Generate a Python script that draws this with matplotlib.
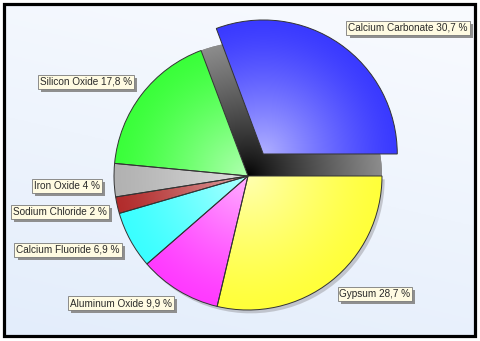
import matplotlib.pyplot as plt
import numpy as np
from matplotlib.patches import Rectangle, Wedge
from matplotlib.colors import to_rgb
import matplotlib.patheffects as pe

components = ['Calcium Carbonate', 'Silicon Oxide', 'Iron Oxide', 'Sodium Chloride',
              'Calcium Fluoride', 'Aluminum Oxide', 'Gypsum']
shares = [30.7, 17.8, 4, 2, 6.9, 9.9, 28.7]
share_text = ['30,7 %', '17,8 %', '4 %', '2 %', '6,9 %', '9,9 %', '28,7 %']
colors = ['#3a3aff', '#3aff3a', '#b2b2b2', '#b22c2c', '#3affff', '#ff3aff', '#ffff3a']
explode = [0.2, 0, 0, 0, 0, 0, 0]

# label box centres in pixels (from top-left)
label_pos = [(408, 28), (86, 82), (67, 186), (60, 212), (68, 250), (121, 303), (375, 294)]

W, H = 480, 341
cx, cy, R = 248, 165, 134  # pie centre (pixels from bottom-left) and radius

fig = plt.figure(figsize=(4.8, 3.41), dpi=100)

# background + frame
bg = fig.add_axes([0, 0, 1, 1])
bg.set_xlim(0, W)
bg.set_ylim(0, H)
bg.axis('off')
yy, xx = np.mgrid[0:1:200j, 0:1:200j]
t = np.clip(0.75 * yy + 0.25 * xx, 0, 1)
top = np.array([227, 237, 251]) / 255
bot = np.array([249, 251, 255]) / 255
grad = top[None, None, :] * (1 - t[..., None]) + bot[None, None, :] * t[..., None]
bg.imshow(grad, extent=(4, 475, 335, 5), aspect='auto', origin='upper')
bg.set_ylim(0, H)
bg.add_patch(Rectangle((3.5, 5.5), 471.5, 332, fill=False, edgecolor='black', linewidth=2.3))

# pie axes in radius units
ax = fig.add_axes([0, 0, 1, 1])
ax.patch.set_alpha(0)


def gradient_fill(ax, patch, base, centre, light=0.6, dark_edge=False):
    x0, x1 = -1.9, 1.8
    y0, y1 = -1.3, 1.4
    gy, gx = np.mgrid[y1:y0:300j, x0:x1:400j]
    d = np.clip(np.hypot(gx - centre[0], gy - centre[1]), 0, 1)
    c = np.array(to_rgb(base))
    if dark_edge:
        img = np.ones(gx.shape + (3,)) * (0.55 * d ** 0.8)[..., None]
    else:
        f = (light * (1 - d) ** 1.3)[..., None]
        img = c[None, None, :] * (1 - f) + f
    im = ax.imshow(img, extent=(x0, x1, y0, y1), origin='upper', aspect='auto',
                   zorder=patch.get_zorder() + 0.1, interpolation='bilinear')
    im.set_clip_path(patch)


wedges, _ = ax.pie(shares, startangle=0, counterclock=True, radius=1, explode=explode,
                   colors=colors, wedgeprops=dict(edgecolor='#333333', linewidth=0.7, zorder=3))

# shadow left behind by exploded slice
ang = 360 * shares[0] / sum(shares)
shadow = Wedge((0, 0), 1, 0, ang, facecolor='#777777', edgecolor='none', zorder=1)
ax.add_patch(shadow)
gradient_fill(ax, shadow, '#808080', (0, 0), dark_edge=True)

# soft drop shadow under the pie
ax.add_patch(Wedge((0.02, -0.025), 1, ang, 360, facecolor='#9a9aa0', edgecolor='none',
                   alpha=0.5, zorder=0.5))

for w, col in zip(wedges, colors):
    gradient_fill(ax, w, col, w.center)
    w.set_facecolor('none')
    w.set_zorder(4)

ax.set_xlim(-cx / R, (W - cx) / R)
ax.set_ylim(-cy / R, (H - cy) / R)
ax.set_aspect('auto')
ax.axis('off')

for name, pct, (px, py) in zip(components, share_text, label_pos):
    txt = bg.text(px, H - py, f'{name} {pct}', ha='center', va='center', fontsize=7.2,
                  family='Liberation Sans', color='#2a2a2a', zorder=6,
                  bbox=dict(boxstyle='square,pad=0.18', facecolor='#fffbe2',
                            edgecolor='#7a7a7a', linewidth=0.6))
    txt.get_bbox_patch().set_path_effects([
        pe.SimplePatchShadow(offset=(2.2, -2.2), shadow_rgbFace='#8f8f8f', alpha=1.0),
        pe.Normal()])

fig.savefig('out.png', dpi=100)
